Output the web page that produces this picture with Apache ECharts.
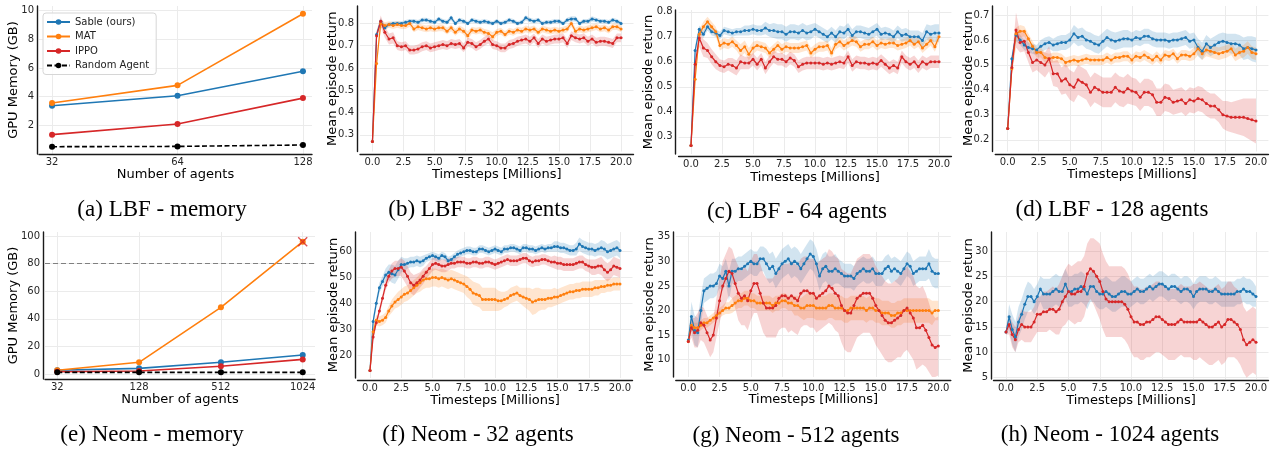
<!DOCTYPE html>
<html><head><meta charset="utf-8">
<script src="https://cdn.jsdelivr.net/npm/echarts@6/dist/echarts.min.js"></script>
<style>html,body{margin:0;padding:0;background:#fff}#c{width:1272px;height:449px}</style>
</head><body><div id="c"></div>
<script>
// ---------------- DATA ----------------
const seriesNames = ['Sable (ours)', 'MAT', 'IPPO', 'Random Agent'];
// LBF memory
const lbfAgents = [32, 64, 128];
const lbfMemSable = [3.37, 4.07, 5.77];
const lbfMemMat = [3.56, 4.79, 9.79];
const lbfMemIppo = [1.35, 2.09, 3.9];
const lbfMemRandom = [0.51, 0.53, 0.63];
const lbfMemTicks = [2, 4, 6, 8, 10];
// Neom memory
const neomAgents = [32, 128, 512, 1024];
const neomMemSable = [2.7, 4.1, 8.5, 13.8];
const neomMemMat = [2.7, 8.5, 48.3, 95.9];
const neomMemIppo = [1.7, 2.2, 5.6, 10.6];
const neomMemRandom = [1.2, 1.2, 1.2, 1.2];
const neomMemTicks = [0, 20, 40, 60, 80, 100];
const memoryLimit = 80;

// timesteps (millions)
const stepTicks = [0, 2.5, 5, 7.5, 10, 12.5, 15, 17.5, 20];
const stepsLbf = Array.from({length: 61}, (_, k) => k / 3);
const stepsNeom = Array.from({length: 81}, (_, k) => k / 4);

// (b) LBF 32 agents
const lbf32Sable = [0.27,0.75,0.81,0.78,0.795,0.80,0.80,0.80,0.805,0.81,
 0.81,0.805,0.815,0.815,0.81,0.805,0.82,0.81,0.805,0.825,
 0.80,0.815,0.81,0.80,0.815,0.81,0.805,0.81,0.805,0.80,
 0.81,0.80,0.805,0.815,0.81,0.80,0.805,0.825,0.815,0.81,
 0.815,0.80,0.805,0.805,0.81,0.81,0.80,0.815,0.82,0.82,
 0.80,0.81,0.81,0.82,0.815,0.81,0.81,0.805,0.815,0.81,
 0.80];
const lbf32SableBand = [0.005,0.015,0.015,0.012,0.01,0.01,0.01,0.01,0.01,0.01,
 0.01,0.01,0.01,0.01,0.01,0.01,0.01,0.01,0.01,0.012,
 0.01,0.01,0.01,0.01,0.01,0.01,0.01,0.01,0.01,0.01,
 0.01,0.01,0.01,0.01,0.01,0.01,0.01,0.012,0.01,0.01,
 0.01,0.01,0.01,0.01,0.01,0.01,0.01,0.01,0.012,0.012,
 0.01,0.01,0.01,0.012,0.01,0.01,0.01,0.01,0.01,0.01,
 0.01];
const lbf32Mat = [0.27,0.62,0.80,0.79,0.795,0.79,0.795,0.79,0.79,0.80,
 0.775,0.785,0.78,0.775,0.78,0.775,0.78,0.78,0.765,0.78,
 0.76,0.775,0.765,0.745,0.77,0.765,0.77,0.76,0.755,0.74,
 0.76,0.765,0.75,0.765,0.76,0.77,0.765,0.775,0.77,0.775,
 0.76,0.775,0.77,0.765,0.77,0.765,0.77,0.775,0.80,0.765,
 0.775,0.77,0.775,0.78,0.785,0.775,0.78,0.77,0.785,0.785,
 0.775];
const lbf32MatBand = [0.005,0.03,0.02,0.015,0.015,0.015,0.015,0.015,0.015,0.015,
 0.015,0.015,0.015,0.015,0.015,0.015,0.015,0.015,0.015,0.015,
 0.015,0.015,0.015,0.02,0.015,0.015,0.015,0.015,0.015,0.02,
 0.015,0.015,0.015,0.015,0.015,0.015,0.015,0.015,0.015,0.015,
 0.015,0.015,0.015,0.015,0.015,0.015,0.015,0.015,0.015,0.015,
 0.015,0.015,0.015,0.015,0.015,0.015,0.015,0.015,0.015,0.015,
 0.015];
const lbf32Ippo = [0.27,0.745,0.81,0.76,0.73,0.735,0.70,0.695,0.70,0.68,
 0.68,0.685,0.695,0.70,0.69,0.695,0.70,0.705,0.70,0.71,
 0.705,0.71,0.69,0.715,0.71,0.695,0.705,0.72,0.73,0.705,
 0.70,0.69,0.69,0.705,0.71,0.72,0.725,0.73,0.72,0.735,
 0.71,0.73,0.72,0.725,0.73,0.73,0.735,0.71,0.745,0.735,
 0.73,0.735,0.72,0.73,0.715,0.72,0.72,0.715,0.71,0.735,
 0.735];
const lbf32IppoBand = [0.005,0.02,0.025,0.025,0.025,0.025,0.02,0.02,0.02,0.02,
 0.02,0.02,0.02,0.02,0.02,0.02,0.02,0.02,0.02,0.02,
 0.02,0.02,0.02,0.02,0.02,0.02,0.02,0.02,0.02,0.02,
 0.02,0.02,0.02,0.02,0.02,0.02,0.02,0.02,0.02,0.02,
 0.02,0.02,0.02,0.02,0.02,0.02,0.02,0.02,0.02,0.02,
 0.02,0.02,0.02,0.02,0.02,0.02,0.02,0.02,0.02,0.02,
 0.02];

// (c) LBF 64 agents
const lbf64Sable = [0.265,0.645,0.73,0.71,0.74,0.72,0.715,0.705,0.725,0.72,
 0.715,0.72,0.72,0.725,0.725,0.73,0.725,0.725,0.735,0.725,
 0.725,0.72,0.72,0.71,0.72,0.72,0.715,0.725,0.715,0.72,
 0.73,0.72,0.71,0.70,0.715,0.70,0.72,0.715,0.73,0.705,
 0.72,0.72,0.715,0.71,0.72,0.73,0.71,0.715,0.71,0.70,
 0.72,0.705,0.71,0.70,0.70,0.70,0.685,0.72,0.71,0.715,
 0.715];
const lbf64SableBand = [0.005,0.02,0.015,0.015,0.015,0.015,0.015,0.015,0.015,0.015,
 0.015,0.015,0.015,0.02,0.02,0.02,0.02,0.02,0.025,0.025,
 0.03,0.03,0.03,0.03,0.03,0.03,0.03,0.03,0.03,0.03,
 0.025,0.025,0.025,0.025,0.025,0.025,0.025,0.025,0.025,0.025,
 0.025,0.025,0.025,0.025,0.025,0.025,0.025,0.025,0.025,0.025,
 0.025,0.025,0.025,0.025,0.025,0.025,0.03,0.03,0.035,0.035,
 0.035];
const lbf64Mat = [0.265,0.53,0.71,0.74,0.76,0.74,0.72,0.665,0.675,0.67,
 0.68,0.665,0.645,0.66,0.63,0.655,0.665,0.66,0.655,0.635,
 0.65,0.665,0.65,0.66,0.655,0.655,0.655,0.66,0.665,0.635,
 0.65,0.66,0.66,0.665,0.635,0.67,0.68,0.665,0.675,0.685,
 0.68,0.66,0.67,0.67,0.68,0.665,0.675,0.67,0.675,0.675,
 0.665,0.67,0.675,0.685,0.67,0.68,0.655,0.67,0.685,0.66,
 0.70];
const lbf64MatBand = [0.005,0.02,0.02,0.02,0.02,0.02,0.02,0.02,0.02,0.02,
 0.02,0.02,0.025,0.025,0.025,0.025,0.02,0.02,0.02,0.02,
 0.02,0.02,0.02,0.02,0.02,0.02,0.02,0.02,0.02,0.02,
 0.02,0.02,0.02,0.02,0.02,0.02,0.02,0.02,0.02,0.02,
 0.02,0.02,0.02,0.02,0.02,0.02,0.02,0.02,0.02,0.02,
 0.02,0.02,0.02,0.02,0.02,0.02,0.02,0.02,0.02,0.02,
 0.02];
const lbf64Ippo = [0.265,0.59,0.695,0.655,0.645,0.62,0.60,0.585,0.58,0.59,
 0.585,0.575,0.60,0.595,0.595,0.61,0.59,0.61,0.575,0.60,
 0.62,0.61,0.61,0.60,0.615,0.605,0.58,0.59,0.595,0.595,
 0.595,0.595,0.59,0.595,0.59,0.595,0.60,0.595,0.62,0.585,
 0.60,0.595,0.595,0.59,0.595,0.59,0.605,0.59,0.575,0.585,
 0.575,0.62,0.60,0.59,0.60,0.58,0.60,0.59,0.60,0.60,
 0.60];
const lbf64IppoBand = [0.005,0.025,0.035,0.035,0.03,0.03,0.03,0.025,0.025,0.025,
 0.03,0.03,0.03,0.025,0.025,0.025,0.025,0.025,0.025,0.025,
 0.025,0.025,0.025,0.025,0.025,0.025,0.025,0.025,0.025,0.025,
 0.025,0.025,0.025,0.025,0.025,0.025,0.025,0.025,0.025,0.025,
 0.025,0.025,0.025,0.025,0.025,0.025,0.025,0.025,0.025,0.025,
 0.025,0.025,0.025,0.025,0.025,0.025,0.025,0.025,0.025,0.025,
 0.025];

// (d) LBF 128 agents
const lbf128Sable = [0.245,0.525,0.62,0.60,0.58,0.57,0.565,0.56,0.575,0.585,
 0.59,0.58,0.585,0.59,0.59,0.60,0.625,0.61,0.615,0.60,
 0.595,0.585,0.58,0.595,0.61,0.60,0.595,0.60,0.605,0.605,
 0.60,0.61,0.605,0.615,0.615,0.605,0.60,0.60,0.60,0.595,
 0.60,0.60,0.605,0.61,0.595,0.60,0.57,0.555,0.585,0.57,
 0.58,0.59,0.595,0.59,0.585,0.585,0.58,0.565,0.57,0.565,
 0.56];
const lbf128SableBand = [0.005,0.02,0.025,0.02,0.02,0.02,0.02,0.02,0.025,0.025,
 0.025,0.025,0.03,0.03,0.03,0.03,0.035,0.035,0.035,0.035,
 0.035,0.035,0.035,0.035,0.035,0.035,0.035,0.035,0.035,0.035,
 0.03,0.03,0.03,0.03,0.03,0.03,0.03,0.03,0.03,0.03,
 0.03,0.03,0.03,0.03,0.03,0.03,0.035,0.035,0.035,0.035,
 0.035,0.035,0.035,0.035,0.04,0.04,0.04,0.045,0.045,0.05,
 0.05];
const lbf128Mat = [0.245,0.485,0.625,0.635,0.635,0.605,0.575,0.55,0.55,0.53,
 0.525,0.53,0.53,0.525,0.51,0.515,0.52,0.515,0.52,0.525,
 0.52,0.52,0.52,0.52,0.53,0.52,0.53,0.53,0.535,0.535,
 0.52,0.535,0.53,0.54,0.53,0.52,0.535,0.52,0.54,0.535,
 0.545,0.525,0.54,0.54,0.535,0.545,0.565,0.545,0.56,0.555,
 0.55,0.545,0.55,0.555,0.565,0.54,0.55,0.555,0.57,0.55,
 0.545];
const lbf128MatBand = [0.005,0.02,0.025,0.025,0.02,0.02,0.02,0.02,0.02,0.02,
 0.02,0.02,0.02,0.02,0.02,0.02,0.02,0.02,0.02,0.02,
 0.02,0.02,0.02,0.02,0.02,0.02,0.02,0.02,0.02,0.02,
 0.02,0.02,0.02,0.02,0.02,0.02,0.02,0.02,0.02,0.02,
 0.02,0.02,0.02,0.02,0.02,0.025,0.025,0.025,0.025,0.025,
 0.025,0.025,0.025,0.025,0.025,0.025,0.025,0.025,0.025,0.025,
 0.025];
const lbf128Ippo = [0.245,0.49,0.64,0.59,0.595,0.55,0.51,0.52,0.51,0.50,
 0.525,0.465,0.465,0.435,0.445,0.42,0.41,0.44,0.43,0.42,
 0.39,0.41,0.40,0.39,0.39,0.39,0.41,0.395,0.39,0.405,
 0.395,0.39,0.37,0.39,0.39,0.38,0.35,0.35,0.37,0.365,
 0.35,0.355,0.36,0.345,0.36,0.355,0.365,0.36,0.345,0.335,
 0.335,0.32,0.30,0.295,0.29,0.29,0.29,0.29,0.285,0.28,
 0.275];
const lbf128IppoBand = [0.005,0.03,0.07,0.04,0.04,0.04,0.04,0.04,0.045,0.05,
 0.05,0.05,0.055,0.055,0.06,0.06,0.06,0.06,0.06,0.06,
 0.06,0.06,0.06,0.06,0.06,0.06,0.06,0.06,0.06,0.06,
 0.055,0.055,0.055,0.055,0.055,0.055,0.055,0.055,0.055,0.055,
 0.05,0.05,0.05,0.05,0.05,0.05,0.05,0.05,0.05,0.05,
 0.05,0.05,0.055,0.06,0.06,0.065,0.07,0.075,0.08,0.085,
 0.09];

// (f) Neom 32 agents
const neom32Sable = [14,33,40,46,48.5,51,52,51.5,51,53,
 55,55,55.5,56,56,56.5,56,56.5,57.5,58,
 58.5,58,57.5,58.5,58,56.5,57,58,59,59.5,
 60,60.5,60.5,60,60,61,61,60.5,60,60.5,
 61,60.5,60,61,61,61.5,61.5,61,60.5,61.5,
 61.5,61,61,60.5,61,61.5,61,61.5,61.5,62,
 62,61.5,61.5,61,60.5,60.5,61,63,62,61.5,
 61,61,60.5,61,61.5,61,60,60.5,61,61.5,
 60.5];
const neom32SableBand = [1,2,2,2,2,2.5,3,3.5,3.5,3.5,
 3,2.5,2,2,2,2,2,2,1.5,1.5,
 1.5,1.5,1.5,1.5,1.5,1.5,1.5,1.5,1.5,1.5,
 1.5,1.5,1.5,1.5,1.5,1.5,1.5,1.5,1.5,1.5,
 1.5,1.5,1.5,1.5,1.5,1.5,1.5,1.5,1.5,1.5,
 1.5,1.5,1.5,1.5,1.5,1.5,1.5,1.5,1.5,2,
 2,2,2,2,2,2,2.5,2.5,2.5,2.5,
 2.5,2.5,2.5,2.5,3,3,3,3,3,3,
 3];
const neom32Mat = [14,29,33.5,33,33.5,34.5,37,39,40.5,41.5,
 42.5,43.5,44,45,46,47,48,49,49.5,49.5,
 50,50,49.5,50,49.5,49,49.5,49,48.5,48,
 47.5,46.5,45.5,44,43.5,43,41.5,41.5,41.5,41.5,
 41.5,41,41,41.5,42,43,43.5,44,43,42.5,
 42,41.5,40.5,41,41.5,41.5,41.5,42,42,42.5,
 42.5,43,43.5,44,44.5,44.5,45,45,45.5,45.5,
 45.5,45.5,46,46,46.5,46.5,47,47,47.5,47.5,
 47.5];
const neom32MatBand = [1,2,2,2,2,2,2,2.5,2.5,3,
 3,3,3,3,3,3,3.5,3.5,3.5,3.5,
 3.5,3.5,3.5,3.5,3.5,3.5,3.5,3.5,3.5,3.5,
 3.5,4,4,4.5,4.5,4.5,4.5,4.5,4.5,4.5,
 4.5,4,3.5,3,3,3,3,3,3,3.5,
 4,4.5,5,5,4.5,4,4,3.5,3.5,3.5,
 3,3,3,3,3,3,3,3,3,3,
 3,3,3,3,2.5,2.5,2.5,2.5,2.5,2.5,
 2.5];
const neom32Ippo = [14,27,32.5,37,42,47,50.5,52.5,53.5,53.5,
 54,52.5,50.5,48,47,48,49,50.5,52,53.5,
 55,55.5,55,54.5,54.5,55,55.5,55.5,56,56,
 56,55.5,55.5,56,56,55.5,55.5,56,56,55.5,
 55,55.5,56,56.5,57,56.5,56.5,56.5,57,57.5,
 57.5,56.5,56,56.5,56.5,57,57,56.5,56,56,
 55.5,55.5,55,55,55,55,55.5,56,56,55,
 54.5,54,54,54.5,54.5,53,52,53,54.5,54,
 53.5];
const neom32IppoBand = [1,1.5,1.5,1.5,1.5,2,2.5,3,3,3,
 3.5,4,4,4,4,3.5,3,3,2.5,2.5,
 2.5,2.5,2.5,2.5,2.5,2.5,2,2,2,2,
 2,2,2,2,2,2,2,2,2,2,
 2,2,2,2,2,2,2,2,2,2,
 2,2,2,2,2,2,2,2,2,2.5,
 2.5,2.5,2.5,2.5,2.5,2.5,2.5,2.5,2.5,2.5,
 2.5,3,3,3,3.5,3.5,3.5,3.5,3.5,3.5,
 3.5];

// (g) Neom 512 agents
const neom512Sable = [14,18.8,16,15.5,20,24,24.5,25,25,25.5,
 27,26.5,28,25,28,28,28.5,28.5,29,29.5,
 30,29.5,29.5,30.5,30.5,29.5,28.5,29,27.5,28.5,
 29.5,30,30.5,29.5,30,29.5,28.5,29.5,30.5,31.5,
 31,29.5,27,28.5,29,28,28,28.5,28,27.5,
 27,27,27,26.5,27.5,28,28.5,28,28,28.5,
 27.5,27.5,27.5,28.5,29,28,28.5,28,27.5,28.5,
 29.5,29,27.5,28,28.5,28.5,28.5,29.5,28,27.5,
 27.5];
const neom512SableBand = [0.5,3,3,3,3,2.5,2.5,2.5,2.5,2.5,
 2.5,2.5,2.5,3,2.5,2.5,2.5,2.5,2.5,2.5,
 2.5,2.5,2.5,2.5,2.5,3,3,3,3,3,
 3,3,3,3,3,3,3,3,3,3,
 3,3,3,3,3,3,3,3,2.5,2.5,
 2.5,2.5,2.5,2.5,2.5,2.5,2.5,2.5,2.5,2.5,
 2.5,2.5,2.5,2.5,2.5,2.5,2.5,2.5,2.5,2.5,
 2.5,2.5,2.5,2.5,2.5,2.5,2.5,3,3,3,
 3];
const neom512Mat = [13.7,17,16.5,16.5,17,17.5,17.5,18,18.5,19,
 19.5,20,20.5,20.5,21,21.5,22,22,22.5,22.5,
 22,22,21.5,21.5,21.5,21.5,21.5,21,21.5,21.5,
 22,22,21.5,21.5,21,21,20.5,20.5,21,21,
 21,20.5,20.5,20.5,20.5,21,21,20.5,20.5,20.5,
 20,20,20.5,20.5,20.5,20.5,20.5,20,20.5,20.5,
 20,20,19.5,19.5,19.5,19,19,19.5,19.5,20,
 20,20,20,20,20,20,20,20,19.5,20,
 20];
const neom512MatBand = [0.5,1,1,1,1,1,1,1,1,1,
 1,1,1.2,1.2,1.5,1.5,1.5,1.5,1.5,1.5,
 1.5,1.5,1.5,1.5,1.5,1.5,1.5,1.5,1.5,1.5,
 1.5,1.5,1.5,1.5,2,2,2,2.5,2.5,2.5,
 2.5,2.5,2.5,2.5,2.5,2.5,2.5,2.5,2.5,2.5,
 2.5,2.5,2.5,2.5,2.5,2.5,2.5,2.5,2.5,2.5,
 2.5,2.5,2.5,2.5,2.5,2.5,2.5,2.5,2.5,2.5,
 2.5,2.5,2.5,2.5,2.5,2.5,2.5,2.5,2.5,2,
 2];
const neom512Ippo = [13.7,16.5,15.5,16,17.5,17,15.5,14,15,18.5,
 22,25,26.5,28,27.5,25.5,23.5,22.5,23,22,
 24,25.5,25.5,23.5,21.5,20.5,20.5,20.5,21,22.5,
 23,23,22.5,23,22.5,22,23.5,24,24,23.5,
 23.5,22.5,23,23.5,24,25,24.5,23.5,23,21,
 20,19.5,19.5,21,22.5,23,23.5,23.5,23.5,22.5,
 21,20,19,18,17.5,17.5,18,18.5,19,20,
 20.5,19.5,18.5,16.5,16.5,17,16,14.5,13,12.5,
 12.8];
const neom512IppoBand = [0.5,2,3,3.5,3.5,3.5,3.5,3.5,3.5,4,
 4.5,5,5,5,5,5,5.5,5.5,6,6,
 6,6,6,6,6,6,6,6,6.5,6.5,
 6.5,6.5,7,7,7,7,7,7,7,7,
 7,7,7,7,7,7.5,7.5,7.5,7.5,7.5,
 8,8,8,8,8,8,8,8,8,8,
 8,8,8,8,8,8,8,8,8.5,8.5,
 8.5,8.5,8.5,8.5,8,8,7.5,7,6.5,6,
 6];

// (h) Neom 1024 agents
const neom1024Sable = [14,17,14.5,13,16,17.5,19.5,21,21,20,
 21,22.5,21.5,21.5,21.5,22,22.5,22,22,23.5,
 22,22,22.5,22.5,23,22.5,21.5,23,23,22,
 21.5,21.5,22,21.5,21,21,21.5,22,22,21.5,
 21.5,22,22.5,22,22,22.5,23,22.5,23,23.5,
 23.5,23,22.5,23,23,22.5,22,22.5,22.5,22,
 21,22,22.5,22.5,22.5,22,22,22.5,22,21.5,
 21.5,21.5,21.5,21.5,22,22,22.5,22,22,21.5,
 21];
const neom1024SableBand = [0.5,2.5,3,3,3,3,3,3,2.5,2.5,
 2.5,2.5,3,3,3,3,3,3,3,3,
 3,3,3,3,3,3,3,3,3,3,
 3,3,3,3,3,3,3,3,3,3,
 2.5,2.5,2.5,2.5,2.5,2.5,2.5,2.5,2.5,2.5,
 2.5,2.5,2.5,2.5,2.5,2.5,2.5,2.5,2.5,2.5,
 2.5,2.5,2.5,2.5,2.5,2.5,2.5,2.5,2.5,2.5,
 2.5,2.5,2.5,2.5,2.5,2.5,2.5,2.5,2.5,2.5,
 2];
const neom1024Ippo = [14,15.5,13.5,12.5,14.5,15.5,15,15,15,16,
 17.5,17.5,18,18,18.5,18.5,18,18.5,20,21,
 22,21.5,21.5,22,22,23,25.5,26.5,26,25,
 24,22,20.5,20,20,20,20,20,19.5,18.5,
 17,16,16,15.5,15.5,16,16,16.5,17,17,
 16.5,16,15.5,15.5,15.5,16,16.5,16,16,16,
 16,16,16.5,16,15.5,15,15,15.5,16,15,
 15.5,16.5,16.5,16,15.5,14.5,12.5,11.5,12,12.5,
 12];
const neom1024IppoBand = [0.5,2,2.5,2.5,2.5,3,3,3,3,3,
 3.5,3.5,4,4,4,4.5,4.5,5,5,5.5,
 5.5,5.5,6,6,6,6,6,6,6.5,7,
 7.5,7.5,7.5,7,7,7,7,7,7,7,
 7,7,7,7,7,7,7,7,7,7,
 7,7,7,7,7,7,7,7,7,7,
 7.5,7.5,7.5,7.5,7.5,7.5,7.5,7.5,7.5,7.5,
 7.5,7.5,7.5,7,7,7,6.5,6.5,6.5,6.5,
 6.5];

const captions = ['(a) LBF - memory', '(b) LBF - 32 agents', '(c) LBF - 64 agents', '(d) LBF - 128 agents',
  '(e) Neom - memory', '(f) Neom - 32 agents', '(g) Neom - 512 agents', '(h) Neom - 1024 agents'];

// ---------------- LAYOUT / STYLE ----------------
const COL = {blue: '#1f77b4', orange: '#ff7f0e', red: '#d62728', black: '#000000'};
const BAND = {blue: 'rgba(31,119,180,0.2)', orange: 'rgba(255,127,14,0.2)', red: 'rgba(214,39,40,0.2)'};
const FONT = 'DejaVu Sans';

// box: [left, top, right, bottom] in px
const panels = [
  {box: [39, 6, 312, 154], x: [-0.104, 2.072], y: [0, 10.33], xt: [0, 1, 2], xl: lbfAgents, yt: lbfMemTicks, yf: 0,
   xName: 'Number of agents', yName: 'GPU Memory (GB)', xOff: 0, yOff: 2, xGap: 14, yGap: 17},
  {box: [360, 6, 633.5, 151.5], x: [-1, 21], y: [0.225, 0.878], xt: stepTicks, yt: [0.3,0.4,0.5,0.6,0.7,0.8], yf: 1,
   xName: 'Timesteps [Millions]', yName: 'Mean episode return', xOff: 2.5, yOff: 3, xGap: 14.5, yGap: 18},
  {box: [678.6, 10, 951.4, 154], x: [-1, 21], y: [0.231, 0.807], xt: stepTicks, yt: [0.3,0.4,0.5,0.6,0.7,0.8], yf: 1,
   xName: 'Timesteps [Millions]', yName: 'Mean episode return', xOff: 2.7, yOff: 3, xGap: 14.5, yGap: 20},
  {box: [995.3, 6, 1268.4, 151.5], x: [-1, 21], y: [0.153, 0.736], xt: stepTicks, yt: [0.2,0.3,0.4,0.5,0.6,0.7], yf: 1,
   xName: 'Timesteps [Millions]', yName: 'Mean episode return', xOff: 2.5, yOff: 3, xGap: 14.5, yGap: 17.5},
  {box: [45, 232, 315, 379], x: [-0.15, 3.15], y: [-3.6, 102.9], xt: [0, 1, 2, 3], xl: neomAgents, yt: neomMemTicks, yf: 0,
   xName: 'Number of agents', yName: 'GPU Memory (GB)', xOff: 0, yOff: 2, xGap: 14, yGap: 23},
  {box: [357.5, 232, 632.5, 378], x: [-1, 21], y: [11.09, 67.63], xt: stepTicks, yt: [20,30,40,50,60], yf: 0,
   xName: 'Timesteps [Millions]', yName: 'Mean episode return', xOff: 2.7, yOff: 2.5, xGap: 13.5, yGap: 15},
  {box: [675.8, 232, 950.8, 377], x: [-1, 21], y: [6.48, 35.96], xt: stepTicks, yt: [10,15,20,25,30,35], yf: 0,
   xName: 'Timesteps [Millions]', yName: 'Mean episode return', xOff: 3, yOff: 2.5, xGap: 13.5, yGap: 17},
  {box: [993.5, 232, 1268.5, 379], x: [-1, 21], y: [4.73, 33.75], xt: stepTicks, yt: [5,10,15,20,25,30], yf: 0,
   xName: 'Timesteps [Millions]', yName: 'Mean episode return', xOff: 1.5, yOff: 2.5, xGap: 13.5, yGap: 16}
];
const captionPos = [[162, 210], [479, 210], [797, 212], [1112, 210], [152, 435], [478, 435], [796, 436], [1110, 435]];

// ---------------- BUILD ----------------
const grids = [], xAxes = [], yAxes = [];
panels.forEach((p, i) => {
  const [l, t, r, b] = p.box;
  grids.push({left: l, top: t, width: r - l, height: b - t, containLabel: false});
  const xLabelFmt = p.xl ? (v => { const k = p.xt.indexOf(v); return k >= 0 ? String(p.xl[k]) : ''; }) : (v => v.toFixed(1));
  xAxes.push({
    type: 'value', gridIndex: i, min: p.x[0], max: p.x[1], offset: p.xOff,
    name: p.xName, nameLocation: 'middle', nameGap: p.xGap, nameMoveOverlap: false,
    nameTextStyle: {fontFamily: FONT, fontSize: 13, color: '#000'},
    axisLine: {show: true, onZero: false, lineStyle: {color: '#1a1a1a', width: 1.4}},
    axisTick: {show: false, customValues: p.xt},
    axisLabel: {customValues: p.xt, formatter: xLabelFmt, fontFamily: FONT, fontSize: 10, color: '#262626', margin: 3},
    splitLine: {show: true, lineStyle: {color: '#ebebeb', width: 1}}
  });
  yAxes.push({
    type: 'value', gridIndex: i, min: p.y[0], max: p.y[1], offset: p.yOff,
    name: p.yName, nameLocation: 'middle', nameGap: p.yGap, nameMoveOverlap: false,
    nameTextStyle: {fontFamily: FONT, fontSize: 13, color: '#000'},
    axisLine: {show: true, onZero: false, lineStyle: {color: '#1a1a1a', width: 1.4}},
    axisTick: {show: false, customValues: p.yt},
    axisLabel: {customValues: p.yt, formatter: v => v.toFixed(p.yf), fontFamily: FONT, fontSize: 10, color: '#262626', margin: 3},
    splitLine: {show: true, lineStyle: {color: '#ebebeb', width: 1}}
  });
});

const series = [];
function memLine(gi, name, agents, vals, color, dashed) {
  series.push({
    name, type: 'line', xAxisIndex: gi, yAxisIndex: gi,
    data: agents.map((a, k) => [k, vals[k]]),
    symbol: 'circle', symbolSize: 6, showAllSymbol: true,
    lineStyle: {color, width: 1.6, type: dashed ? [5, 2.5] : 'solid'},
    itemStyle: {color}, z: 4, silent: true
  });
  return series[series.length - 1];
}
function band(gi, xs, ys, hw, fill) {
  const lo = ys.map((v, k) => v - hw[k]);
  const hi = ys.map((v, k) => v + hw[k]);
  series.push({
    type: 'custom', xAxisIndex: gi, yAxisIndex: gi, silent: true, z: 1,
    data: [[xs[0], ys[0]]],
    renderItem: (params, api) => {
      const pts = [];
      for (let k = 0; k < xs.length; k++) pts.push(api.coord([xs[k], hi[k]]));
      for (let k = xs.length - 1; k >= 0; k--) pts.push(api.coord([xs[k], lo[k]]));
      return {type: 'polygon', shape: {points: pts}, style: {fill}};
    }
  });
}
function trainLine(gi, xs, ys, color) {
  series.push({
    type: 'line', xAxisIndex: gi, yAxisIndex: gi,
    data: xs.map((x, k) => [x, ys[k]]),
    symbol: 'circle', symbolSize: 3, showAllSymbol: true,
    lineStyle: {color, width: 1.2}, itemStyle: {color}, z: 3, silent: true
  });
}

// (a)
memLine(0, seriesNames[0], lbfAgents, lbfMemSable, COL.blue);
memLine(0, seriesNames[1], lbfAgents, lbfMemMat, COL.orange);
memLine(0, seriesNames[2], lbfAgents, lbfMemIppo, COL.red);
memLine(0, seriesNames[3], lbfAgents, lbfMemRandom, COL.black, true);
// (e)
memLine(4, 'e-sable', neomAgents, neomMemSable, COL.blue);
const eMat = memLine(4, 'e-mat', neomAgents, neomMemMat, COL.orange);
eMat.markLine = {silent: true, symbol: 'none', label: {show: false},
  lineStyle: {color: '#808080', type: [5, 3], width: 1.2}, data: [{yAxis: memoryLimit}]};
memLine(4, 'e-ippo', neomAgents, neomMemIppo, COL.red);
memLine(4, 'e-random', neomAgents, neomMemRandom, COL.black, true);
series.push({type: 'scatter', xAxisIndex: 4, yAxisIndex: 4, silent: true, z: 6,
  data: [[neomAgents.length - 1, neomMemMat[neomAgents.length - 1]]],
  symbol: 'path://M0,0L10,10M10,0L0,10', symbolSize: 9,
  itemStyle: {color: 'rgba(0,0,0,0)', borderColor: COL.red, borderWidth: 1.4}});

const training = [
  [1, stepsLbf, [lbf32Sable, lbf32SableBand], [lbf32Mat, lbf32MatBand], [lbf32Ippo, lbf32IppoBand]],
  [2, stepsLbf, [lbf64Sable, lbf64SableBand], [lbf64Mat, lbf64MatBand], [lbf64Ippo, lbf64IppoBand]],
  [3, stepsLbf, [lbf128Sable, lbf128SableBand], [lbf128Mat, lbf128MatBand], [lbf128Ippo, lbf128IppoBand]],
  [5, stepsNeom, [neom32Sable, neom32SableBand], [neom32Mat, neom32MatBand], [neom32Ippo, neom32IppoBand]],
  [6, stepsNeom, [neom512Sable, neom512SableBand], [neom512Mat, neom512MatBand], [neom512Ippo, neom512IppoBand]],
  [7, stepsNeom, [neom1024Sable, neom1024SableBand], null, [neom1024Ippo, neom1024IppoBand]]
];
training.forEach(([gi, xs, s, m, ip]) => {
  band(gi, xs, s[0], s[1], BAND.blue);
  if (m) band(gi, xs, m[0], m[1], BAND.orange);
  band(gi, xs, ip[0], ip[1], BAND.red);
  trainLine(gi, xs, s[0], COL.blue);
  if (m) trainLine(gi, xs, m[0], COL.orange);
  trainLine(gi, xs, ip[0], COL.red);
});

const option = {
  animation: false,
  backgroundColor: '#fff',
  textStyle: {fontFamily: FONT},
  grid: grids, xAxis: xAxes, yAxis: yAxes, series,
  legend: {
    data: seriesNames, orient: 'vertical', left: 43, top: 13,
    itemWidth: 23, itemHeight: 7, itemGap: 4.5, padding: [4, 7, 4, 3],
    backgroundColor: 'rgba(255,255,255,0.85)', borderColor: '#d6d6d6', borderWidth: 1, borderRadius: 3,
    textStyle: {fontFamily: FONT, fontSize: 10, color: '#222'}, selectedMode: false
  },
  graphic: captions.map((t, i) => ({
    type: 'text', silent: true,
    style: {text: t, x: captionPos[i][0], y: captionPos[i][1], align: 'center', verticalAlign: 'middle',
      font: '23px "Liberation Serif"', fill: '#000'}
  }))
};
const chart = echarts.init(document.getElementById('c'), null, {renderer: 'canvas'});
chart.setOption(option);
</script>
</body></html>
